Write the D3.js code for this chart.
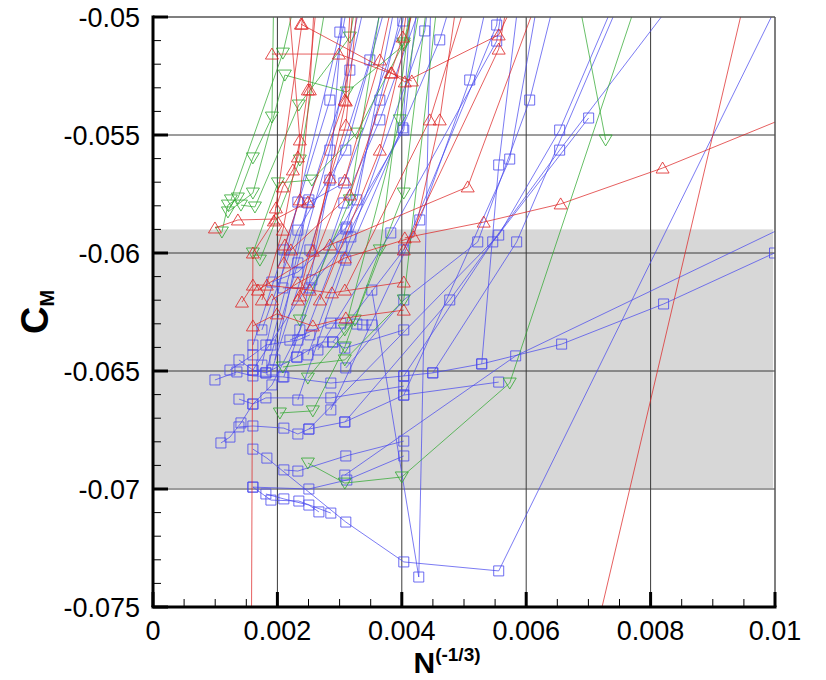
<!DOCTYPE html>
<html>
<head>
<meta charset="utf-8">
<script src="https://cdn.jsdelivr.net/npm/d3@7"></script>
<style>
  body { margin: 0; background: #fff; }
  svg text { font-family: "Liberation Sans", Arial, sans-serif; }
</style>
</head>
<body>
<div id="chart"></div>
<script>
// axis ticks
const xTicks = [0, 0.002, 0.004, 0.006, 0.008, 0.01];
const yTicks = [-0.075, -0.07, -0.065, -0.06, -0.055, -0.05];
// shaded band (C_M range)
const bandRange = [-0.059, -0.06996];

// each series = list of [N^(-1/3), C_M]
const blueSeries = [
  [[0.001606,-0.06831],[0.001831,-0.06869],[0.003100,-0.07140],[0.004032,-0.07309],[0.005558,-0.07347],[0.010153,-0.04886]],
  [[0.001606,-0.06992],[0.001896,-0.07047],[0.002345,-0.07051],[0.002859,-0.07102]],
  [[0.001815,-0.07021],[0.002104,-0.07042],[0.002506,-0.07068],[0.002667,-0.07097]],
  [[0.001606,-0.06992],[0.002506,-0.07000],[0.003116,-0.06962],[0.004032,-0.06860]],
  [[0.001092,-0.06805],[0.001237,-0.06780],[0.001414,-0.06720],[0.001606,-0.06640],[0.001912,-0.06559],[0.002361,-0.06326],[0.002843,-0.05691],[0.003084,-0.04843]],
  [[0.001382,-0.06737],[0.001606,-0.06733],[0.002104,-0.06742],[0.002329,-0.06767],[0.002506,-0.06746],[0.003084,-0.06716],[0.004032,-0.06602],[0.005558,-0.06547]],
  [[0.002104,-0.06919],[0.002329,-0.06924],[0.003100,-0.06860],[0.004032,-0.06797]],
  [[0.000996,-0.06538],[0.001349,-0.06504],[0.001606,-0.06521],[0.002088,-0.06525],[0.002859,-0.06551],[0.004032,-0.06521],[0.004498,-0.06508],[0.005285,-0.06470],[0.006570,-0.06386],[0.008209,-0.06216],[0.009992,-0.06000]],
  [[0.001382,-0.06453],[0.001606,-0.06496],[0.001815,-0.06508],[0.002313,-0.06441],[0.002731,-0.06377],[0.002892,-0.06377],[0.003084,-0.06403],[0.004032,-0.06326]],
  [[0.001382,-0.06619],[0.001606,-0.06640],[0.001815,-0.06614],[0.002859,-0.06614],[0.004032,-0.06564]],
  [[0.002201,-0.06369],[0.002859,-0.06297],[0.003020,-0.06297],[0.003277,-0.06301],[0.003373,-0.06305],[0.003518,-0.06305]],
  [[0.001912,-0.06123],[0.002329,-0.06081],[0.003116,-0.05890],[0.004032,-0.05479],[0.004289,-0.04843]],
  [[0.002088,-0.06148],[0.002522,-0.06148],[0.003036,-0.05975],[0.004016,-0.05470],[0.004161,-0.04886]],
  [[0.001751,-0.06475],[0.002329,-0.05784],[0.003004,-0.05064],[0.003068,-0.04886]],
  [[0.001896,-0.06390],[0.002490,-0.05788],[0.003068,-0.05703],[0.004016,-0.05017],[0.004064,-0.04886]],
  [[0.002104,-0.06525],[0.003068,-0.05788],[0.003647,-0.05436],[0.004450,-0.04843]],
  [[0.002490,-0.06432],[0.003181,-0.05932],[0.004369,-0.05059],[0.004450,-0.04886]],
  [[0.002651,-0.06411],[0.003823,-0.05915],[0.005526,-0.05102],[0.005655,-0.04886]],
  [[0.002892,-0.06377],[0.004032,-0.05987],[0.005526,-0.05034],[0.005574,-0.04886]],
  [[0.003100,-0.06487],[0.004032,-0.06199],[0.005221,-0.05953],[0.006056,-0.05352],[0.006538,-0.04843]],
  [[0.001606,-0.06496],[0.002554,-0.06114],[0.003277,-0.05775],[0.003968,-0.04843]],
  [[0.001815,-0.06508],[0.002329,-0.06042],[0.002843,-0.05564],[0.003406,-0.04843]],
  [[0.001960,-0.06453],[0.002506,-0.05775],[0.003165,-0.05225],[0.003486,-0.04843]],
  [[0.002313,-0.06441],[0.003100,-0.05898],[0.003647,-0.05352],[0.004129,-0.04843]],
  [[0.004032,-0.06521],[0.005462,-0.05953],[0.007004,-0.05428]],
  [[0.004498,-0.06508],[0.005847,-0.05953],[0.007582,-0.04886]],
  [[0.003084,-0.06716],[0.004771,-0.06199],[0.006538,-0.05564],[0.008627,-0.04843]],
  [[0.002506,-0.06746],[0.005558,-0.05924],[0.006538,-0.05479],[0.007502,-0.04886]],
  [[0.004032,-0.06602],[0.005735,-0.05602],[0.006217,-0.04886]],
  [[0.005285,-0.06470],[0.005558,-0.05627],[0.005896,-0.04886]],
  [[0.003518,-0.06157],[0.004273,-0.07373],[0.004482,-0.04716]],
  [[0.003084,-0.06941],[0.005831,-0.06436],[0.010715,-0.05818]],
  [[0.001606,-0.06390],[0.002104,-0.05987],[0.002843,-0.05352],[0.003197,-0.04843]],
  [[0.001912,-0.06496],[0.002522,-0.05987],[0.003486,-0.05182],[0.003727,-0.04886]],
  [[0.002329,-0.06623],[0.003100,-0.06030],[0.004610,-0.05097],[0.004851,-0.04886]],
  [[0.002859,-0.06665],[0.004289,-0.05860],[0.005092,-0.05267],[0.005414,-0.04886]],
  [[0.001751,-0.06326],[0.002329,-0.05903],[0.003100,-0.05564],[0.003807,-0.04886]],
  [[0.001237,-0.06496],[0.001606,-0.06432],[0.001815,-0.06390],[0.002329,-0.06369],[0.002522,-0.06347]]
];

const redSeries = [
  [[0.004048,-0.05936],[0.005317,-0.05869],[0.006554,-0.05792],[0.008193,-0.05640],[0.010394,-0.05403]],
  [[0.001687,-0.06157],[0.002843,-0.05966],[0.005060,-0.05720],[0.006297,-0.04843]],
  [[0.001582,-0.07682],[0.001606,-0.06000],[0.001944,-0.05864],[0.002394,-0.05030],[0.002442,-0.04843]],
  [[0.007133,-0.07597],[0.009510,-0.04928]],
  [[0.000996,-0.05894],[0.001365,-0.05860],[0.001976,-0.05856],[0.002490,-0.05784],[0.003084,-0.05352],[0.003197,-0.04843]],
  [[0.001430,-0.06208],[0.001606,-0.06136],[0.001831,-0.06136],[0.002522,-0.06157],[0.002876,-0.06169],[0.004032,-0.06123]],
  [[0.001606,-0.06309],[0.001992,-0.06258],[0.002570,-0.06309],[0.003100,-0.06275],[0.004032,-0.06242]],
  [[0.001912,-0.06199],[0.002329,-0.06127],[0.003084,-0.06021],[0.004193,-0.05932],[0.004610,-0.05436],[0.004932,-0.04843]],
  [[0.002104,-0.06042],[0.002120,-0.05966],[0.002361,-0.05775],[0.002522,-0.05309],[0.002602,-0.04886]],
  [[0.001976,-0.05809],[0.002088,-0.05720],[0.002249,-0.05648],[0.002329,-0.05593],[0.002490,-0.05309],[0.002683,-0.04801]],
  [[0.002378,-0.05030],[0.003839,-0.05237],[0.004048,-0.05275],[0.005558,-0.05076],[0.005896,-0.04886]],
  [[0.001912,-0.05157],[0.002988,-0.05157],[0.004161,-0.05271]],
  [[0.002329,-0.06199],[0.002843,-0.05682],[0.003100,-0.05458],[0.003325,-0.04843]],
  [[0.002570,-0.05992],[0.003100,-0.05356],[0.003245,-0.04843]],
  [[0.002217,-0.05987],[0.003165,-0.05754],[0.003823,-0.05237],[0.004016,-0.05085],[0.004129,-0.04886]],
  [[0.004032,-0.05987],[0.005558,-0.05136],[0.005735,-0.04886]],
  [[0.001751,-0.06199],[0.002088,-0.05903],[0.002361,-0.05521],[0.002153,-0.04843]],
  [[0.002361,-0.06182],[0.003084,-0.05691],[0.003647,-0.05182],[0.003888,-0.04886]],
  [[0.002683,-0.06199],[0.003647,-0.05564],[0.004289,-0.04843]],
  [[0.003084,-0.06157],[0.004450,-0.05436],[0.005092,-0.04886]]
];

const greenSeries = [
  [[0.002490,-0.06890],[0.003084,-0.06975],[0.004000,-0.06949],[0.005735,-0.06551],[0.008161,-0.04631]],
  [[0.006827,-0.04907],[0.007277,-0.05521]],
  [[0.001108,-0.05911],[0.001205,-0.05797],[0.001365,-0.05767],[0.001606,-0.05597],[0.001912,-0.05424],[0.001944,-0.04843]],
  [[0.001205,-0.05826],[0.001606,-0.05746],[0.002120,-0.05246],[0.003116,-0.05318],[0.004032,-0.05119],[0.004289,-0.04843]],
  [[0.001414,-0.05797],[0.001639,-0.05805],[0.002345,-0.05373],[0.003165,-0.05085],[0.003325,-0.04843]],
  [[0.001606,-0.06000],[0.002008,-0.05703],[0.002554,-0.05691],[0.003277,-0.05492],[0.004032,-0.05110],[0.004289,-0.04801]],
  [[0.002088,-0.06483],[0.003084,-0.06453],[0.004032,-0.06199],[0.004610,-0.04843]],
  [[0.002040,-0.06678],[0.002570,-0.06669],[0.003084,-0.06398],[0.003647,-0.05987],[0.004209,-0.04843]],
  [[0.002490,-0.06530],[0.003245,-0.06284],[0.004032,-0.05746],[0.004450,-0.04843]],
  [[0.001253,-0.05775],[0.002088,-0.05153],[0.002361,-0.04843]],
  [[0.001719,-0.06030],[0.002361,-0.05606],[0.002843,-0.04843]],
  [[0.002361,-0.06284],[0.003165,-0.05775],[0.003727,-0.04843]],
  [[0.003084,-0.06326],[0.003968,-0.05436],[0.004369,-0.04843]]
];

const W = 826, H = 680;
const plot = {left: 153, right: 775, top: 17, bottom: 607};

const x = d3.scaleLinear().domain([0, 0.01]).range([plot.left, plot.right]);
const y = d3.scaleLinear().domain([-0.075, -0.05]).range([plot.bottom, plot.top]);

const svg = d3.select("#chart").append("svg")
    .attr("width", W)
    .attr("height", H);

svg.append("defs").append("clipPath")
    .attr("id", "clip")
  .append("rect")
    .attr("x", plot.left)
    .attr("y", plot.top)
    .attr("width", plot.right - plot.left)
    .attr("height", plot.bottom - plot.top);

// gray band
svg.append("rect")
    .attr("x", plot.left)
    .attr("y", y(bandRange[0]))
    .attr("width", x(0.00997) - plot.left)
    .attr("height", y(bandRange[1]) - y(bandRange[0]))
    .attr("fill", "#d7d7d7");

// grid
const grid = svg.append("g").attr("stroke", "#3a3a3a").attr("stroke-width", 1);
xTicks.slice(1, -1).forEach(t => {
  grid.append("line").attr("x1", x(t)).attr("x2", x(t))
    .attr("y1", plot.top).attr("y2", plot.bottom);
});
yTicks.slice(1, -1).forEach(t => {
  grid.append("line").attr("x1", plot.left).attr("x2", plot.right)
    .attr("y1", y(t)).attr("y2", y(t));
});

const line = d3.line().x(d => x(d[0])).y(d => y(d[1]));
const dataG = svg.append("g").attr("clip-path", "url(#clip)");

const squarePath = "M-5,-5H5V5H-5Z";
const triUp = "M0,-6L6.5,5H-6.5Z";
const triDown = "M0,6L6.5,-5H-6.5Z";

function drawGroup(series, color, shape) {
  const g = dataG.append("g");
  series.forEach(s => {
    g.append("path")
      .attr("d", line(s))
      .attr("fill", "none")
      .attr("stroke", color)
      .attr("stroke-opacity", 0.72)
      .attr("stroke-width", 1);
    g.selectAll(null)
      .data(s)
      .enter().append("path")
        .attr("d", shape)
        .attr("transform", d => `translate(${x(d[0])},${y(d[1])})`)
        .attr("fill", "none")
        .attr("stroke", color)
        .attr("stroke-opacity", 0.8)
        .attr("stroke-width", 1);
  });
}

drawGroup(blueSeries, "#4848ee", squarePath);
drawGroup(greenSeries, "#2ea82e", triDown);
drawGroup(redSeries, "#dd2222", triUp);

// frame
svg.append("line").attr("x1", plot.left).attr("x2", plot.right)
  .attr("y1", plot.top).attr("y2", plot.top).attr("stroke", "#555").attr("stroke-width", 1.5);
svg.append("line").attr("x1", plot.right).attr("x2", plot.right)
  .attr("y1", plot.top).attr("y2", plot.bottom).attr("stroke", "#555").attr("stroke-width", 1.5);

// axes with inward ticks
const xAxis = svg.append("g").attr("transform", `translate(0,${plot.bottom})`);
const yAxis = svg.append("g").attr("transform", `translate(${plot.left},0)`);

const xMinor = d3.range(0, 0.01001, 0.0005);
const yMinor = d3.range(-0.075, -0.04999, 0.001);

xMinor.forEach(t => {
  xAxis.append("line").attr("x1", x(t)).attr("x2", x(t)).attr("y1", 0).attr("y2", -8)
    .attr("stroke", "#000").attr("stroke-width", 1);
});
yMinor.forEach(t => {
  yAxis.append("line").attr("y1", y(t)).attr("y2", y(t)).attr("x1", 0).attr("x2", 8)
    .attr("stroke", "#000").attr("stroke-width", 1);
});
xTicks.forEach(t => {
  xAxis.append("line").attr("x1", x(t)).attr("x2", x(t)).attr("y1", 0).attr("y2", -15)
    .attr("stroke", "#000").attr("stroke-width", 3);
  xAxis.append("text")
    .attr("x", x(t)).attr("y", 33)
    .attr("text-anchor", "middle")
    .attr("font-size", 27)
    .text(String(+t.toFixed(3)));
});
yTicks.forEach(t => {
  yAxis.append("line").attr("y1", y(t)).attr("y2", y(t)).attr("x1", 0).attr("x2", 15)
    .attr("stroke", "#000").attr("stroke-width", 3);
  yAxis.append("text")
    .attr("x", -13).attr("y", y(t)).attr("dy", "0.36em")
    .attr("text-anchor", "end")
    .attr("font-size", 27)
    .text(String(+t.toFixed(3)));
});
xAxis.append("line").attr("x1", plot.left - 1.5).attr("x2", plot.right + 1.5)
  .attr("stroke", "#000").attr("stroke-width", 3);
yAxis.append("line").attr("y1", plot.top - 1.5).attr("y2", plot.bottom)
  .attr("stroke", "#000").attr("stroke-width", 3);

// axis titles
svg.append("text")
    .attr("x", 447)
    .attr("y", 673)
    .attr("text-anchor", "middle")
    .attr("font-size", 30)
    .attr("font-weight", "bold")
    .html('N<tspan dy="-12" font-size="19">(-1/3)</tspan>');

svg.append("text")
    .attr("transform", `translate(48,${(plot.top + plot.bottom) / 2}) rotate(-90)`)
    .attr("text-anchor", "middle")
    .attr("font-size", 38)
    .attr("font-weight", "bold")
    .html('C<tspan dy="6" font-size="20">M</tspan>');
</script>
</body>
</html>
